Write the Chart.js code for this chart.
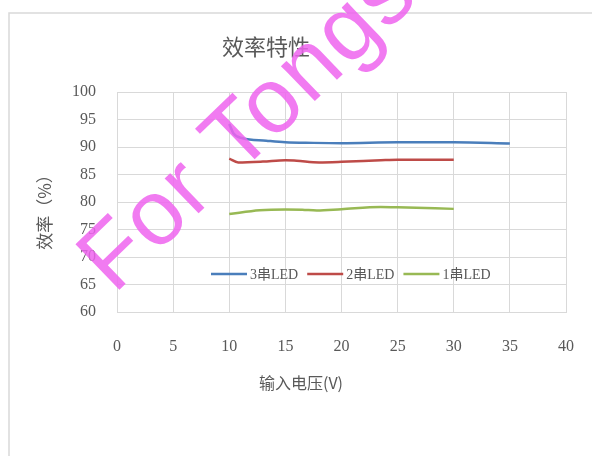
<!DOCTYPE html>
<html>
<head>
<meta charset="utf-8">
<title>效率特性</title>
<script src="https://cdn.jsdelivr.net/npm/chart.js@4/dist/chart.umd.min.js"></script>
<style>
    html, body { margin: 0; padding: 0; background: #fff; }
    #chart { display: block; }
</style>
</head>
<body>
<canvas id="chart" width="592" height="456"></canvas>
<script>
// ── Data ──
const voltage3 = [10, 10.4, 11.2, 13.3, 15, 17.5, 20, 25, 30, 35];
const eff3     = [94.2, 92.4, 91.6, 91.15, 90.85, 90.75, 90.7, 90.85, 90.85, 90.65];

const voltage2 = [10, 10.8, 13, 15, 16, 18, 20, 23.5, 25, 30];
const eff2     = [87.9, 87.2, 87.35, 87.6, 87.5, 87.2, 87.3, 87.6, 87.7, 87.7];

const voltage1 = [10, 12.7, 15, 16.5, 17.8, 20, 23.5, 25, 30];
const eff1     = [77.8, 78.5, 78.65, 78.6, 78.45, 78.7, 79.1, 79.05, 78.75];

const seriesNames  = ['3串LED', '2串LED', '1串LED'];
const seriesColors = ['#4A7EBB', '#BE4B48', '#98B954'];

const xTickValues = [0, 5, 10, 15, 20, 25, 30, 35, 40];
const yTickValues = [60, 65, 70, 75, 80, 85, 90, 95, 100];

const chartTitle = '效率特性';
const xTitle = '输入电压(V)';
const yTitle = '效率（%）';
const watermarkText = 'For Tongsheng';

const TEXT_COLOR = '#595959';
const GRID_COLOR = '#d9d9d9';
const FONT = '"Liberation Serif", "Noto Sans CJK SC", serif';
const CJK_FONT = '"Noto Sans CJK SC", sans-serif';

function toPoints(xs, ys) {
    return xs.map((x, i) => ({ x: x, y: ys[i] }));
}

// ── Outer frame of the chart object ──
const chartFrame = {
    id: 'chartFrame',
    beforeDraw(chart) {
        const c = chart.ctx;
        c.save();
        c.strokeStyle = GRID_COLOR;
        c.lineWidth = 1.5;
        c.strokeRect(9, 13, 700, 600);
        c.restore();
    }
};

// ── Titles + legend drawn inside the plot ──
const chartTexts = {
    id: 'chartTexts',
    afterDatasetsDraw(chart) {
        const c = chart.ctx;
        c.save();
        c.fillStyle = TEXT_COLOR;
        c.textAlign = 'center';
        c.textBaseline = 'middle';

        c.font = '22px ' + CJK_FONT;
        c.fillText(chartTitle, 266, 47);

        c.font = '16px ' + CJK_FONT;
        c.fillText(xTitle, 301, 383);

        c.save();
        c.translate(45, 208);
        c.rotate(-Math.PI / 2);
        c.font = '17px ' + CJK_FONT;
        c.fillText(yTitle, 0, 0);
        c.restore();

        // legend
        c.font = '14px ' + FONT;
        c.textAlign = 'left';
        let x = 211;
        const y = 274;
        chart.data.datasets.forEach(ds => {
            c.strokeStyle = ds.borderColor;
            c.lineWidth = 2.5;
            c.beginPath();
            c.moveTo(x, y);
            c.lineTo(x + 36, y);
            c.stroke();
            c.fillStyle = TEXT_COLOR;
            c.fillText(ds.label, x + 39, y + 1);
            x += 39 + c.measureText(ds.label).width + 9;
        });
        c.restore();
    }
};

// ── Watermark on top of everything ──
const watermark = {
    id: 'watermark',
    afterDraw(chart) {
        const c = chart.ctx;
        c.save();
        c.translate(114, 295);
        c.rotate(-44 * Math.PI / 180);
        c.font = '92px "Liberation Sans", Arial, sans-serif';
        c.letterSpacing = '2px';
        c.fillStyle = 'rgba(238, 100, 238, 0.85)';
        c.textBaseline = 'alphabetic';
        c.fillText(watermarkText, 0, 0);
        c.restore();
    }
};

const tickFont = { family: FONT, size: 16 };

new Chart(document.getElementById('chart'), {
    type: 'scatter',
    data: {
        datasets: [
            { label: seriesNames[0], data: toPoints(voltage3, eff3), borderColor: seriesColors[0] },
            { label: seriesNames[1], data: toPoints(voltage2, eff2), borderColor: seriesColors[1] },
            { label: seriesNames[2], data: toPoints(voltage1, eff1), borderColor: seriesColors[2] },
        ].map(ds => ({
            ...ds,
            showLine: true,
            borderWidth: 2.5,
            pointRadius: 0,
            cubicInterpolationMode: 'monotone',
            backgroundColor: ds.borderColor,
        }))
    },
    options: {
        responsive: false,
        animation: false,
        layout: { padding: { left: 0, right: 26, top: 92, bottom: 0 } },
        plugins: {
            legend: { display: false },
            tooltip: { enabled: false },
        },
        scales: {
            x: {
                type: 'linear',
                min: xTickValues[0],
                max: xTickValues[xTickValues.length - 1],
                afterBuildTicks: s => { s.ticks = xTickValues.map(v => ({ value: v })); },
                afterFit: s => { s.height = 144; s.paddingLeft = 0; s.paddingRight = 0; },
                grid: { color: GRID_COLOR, drawTicks: false },
                border: { color: GRID_COLOR },
                ticks: { color: TEXT_COLOR, font: tickFont, padding: 25, maxRotation: 0 },
            },
            y: {
                min: yTickValues[0],
                max: yTickValues[yTickValues.length - 1],
                afterBuildTicks: s => { s.ticks = yTickValues.map(v => ({ value: v })); },
                afterFit: s => { s.width = 117; s.paddingTop = 0; s.paddingBottom = 0; },
                grid: { color: GRID_COLOR, drawTicks: false },
                border: { color: GRID_COLOR },
                ticks: { color: TEXT_COLOR, font: tickFont, padding: 21 },
            }
        }
    },
    plugins: [chartFrame, chartTexts, watermark]
});
</script>
</body>
</html>
